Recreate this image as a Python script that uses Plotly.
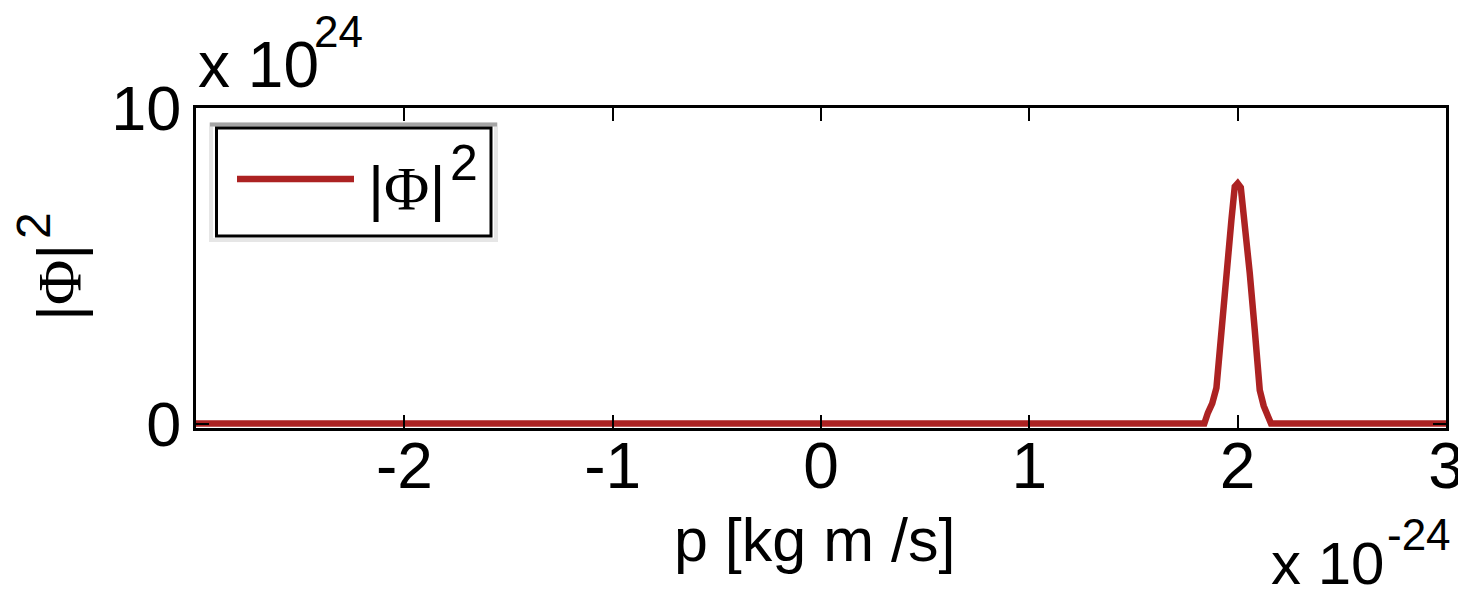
import plotly.graph_objects as go

# momentum p in units of 1e-24 kg m/s
p_vals = [-3.0, 1.84, 1.857, 1.878, 1.898, 1.913, 1.938, 1.953, 1.97, 1.986, 2.0,
          2.015, 2.034, 2.058, 2.082, 2.106, 2.125, 2.144, 2.16, 3.0]
# |Phi|^2 in units of 1e24
phi2_vals = [0.0, 0.0, 0.34, 0.64, 1.13, 2.33, 3.92, 5.61, 6.45, 7.51, 7.61,
             7.48, 6.45, 4.77, 2.97, 1.06, 0.56, 0.21, 0.0, 0.0]

x_ticks = [-2, -1, 0, 1, 2, 3]
y_ticks = [0, 10]

FONT = "Liberation Sans, Arial, sans-serif"
LINE_COLOR = "#ac2222"
PHI = "<span style='font-family:Liberation Serif'>Φ</span>"

# page (px) -> paper helpers; plot area spans x 196..1446, y 108..428 in the page
def px_x(px):
    return (px - 196) / 1250

def px_y(py):
    return (428 - py) / 320

fig = go.Figure()
fig.add_trace(go.Scatter(x=p_vals, y=phi2_vals, mode="lines",
                         line=dict(color=LINE_COLOR, width=6.5),
                         name="|Φ|²", showlegend=False))

fig.update_layout(
    width=1458, height=588,
    margin=dict(l=188, r=20, t=100, b=168, autoexpand=False),
    paper_bgcolor="white", plot_bgcolor="white",
    font=dict(family=FONT, size=62, color="black"),
    showlegend=False,
)
fig.update_xaxes(range=[-3, 3], tickvals=x_ticks, ticktext=[str(t) for t in x_ticks],
                 ticks="inside", ticklen=13, tickwidth=2, tickcolor="black",
                 showline=True, linecolor="black", linewidth=3, mirror="ticks",
                 showgrid=False, zeroline=False, ticklabelstandoff=-20, automargin=False,
                 tickfont=dict(size=64))
fig.update_yaxes(range=[-0.14, 10], tickvals=y_ticks, ticktext=[str(t) for t in y_ticks],
                 ticks="inside", ticklen=13, tickwidth=2, tickcolor="black",
                 showline=True, linecolor="black", linewidth=3, mirror="ticks",
                 showgrid=False, zeroline=False, ticklabelstandoff=-1, automargin=False,
                 tickfont=dict(size=63))

# x-axis title
fig.add_annotation(text="p [kg m /s]", xref="paper", yref="paper", x=px_x(814), y=px_y(575.9),
                   xanchor="center", yanchor="bottom", showarrow=False, font=dict(size=61))

# y-axis title (rotated), main part and exponent
fig.add_annotation(text="|" + PHI + "|", xref="paper", yref="paper", x=px_x(58.1), y=px_y(282),
                   xanchor="center", yanchor="middle", textangle=-90,
                   showarrow=False, font=dict(size=62))
fig.add_annotation(text="2", xref="paper", yref="paper", x=px_x(33.4), y=px_y(225.5),
                   xanchor="center", yanchor="middle", textangle=-90,
                   showarrow=False, font=dict(size=48))

# axis exponent labels
fig.add_annotation(text="x 10", xref="paper", yref="paper", x=0, y=px_y(102.6),
                   xanchor="left", yanchor="bottom", showarrow=False, font=dict(size=64))
fig.add_annotation(text="24", xref="paper", yref="paper", x=px_x(312), y=px_y(58.3),
                   xanchor="left", yanchor="bottom", showarrow=False, font=dict(size=44))
fig.add_annotation(text="x 10", xref="paper", yref="paper", x=px_x(1386.4), y=px_y(599),
                   xanchor="right", yanchor="bottom", showarrow=False, font=dict(size=60))
fig.add_annotation(text="-24", xref="paper", yref="paper", x=px_x(1385.2), y=px_y(561.3),
                   xanchor="left", yanchor="bottom", showarrow=False, font=dict(size=44))

# legend box
fig.add_shape(type="rect", xref="paper", yref="paper",
              x0=px_x(211), x1=px_x(496), y0=px_y(240), y1=px_y(124.5),
              line=dict(color="#e6e6e6", width=4), fillcolor="white", layer="above")
fig.add_shape(type="line", xref="paper", yref="paper",
              x0=px_x(210), x1=px_x(497), y0=px_y(124.5), y1=px_y(124.5),
              line=dict(color="#a4a4a4", width=4), layer="above")
fig.add_shape(type="rect", xref="paper", yref="paper",
              x0=px_x(216.5), x1=px_x(491), y0=px_y(236), y1=px_y(128),
              line=dict(color="black", width=3), fillcolor="white", layer="above")
fig.add_shape(type="line", xref="paper", yref="paper",
              x0=px_x(237), x1=px_x(354), y0=px_y(179), y1=px_y(179),
              line=dict(color=LINE_COLOR, width=6.5), layer="above")
fig.add_annotation(text="|" + PHI + "|", xref="paper", yref="paper",
                   x=px_x(366), y=px_y(224), xanchor="left", yanchor="bottom",
                   showarrow=False, font=dict(size=62))
fig.add_annotation(text="2", xref="paper", yref="paper",
                   x=px_x(448), y=px_y(193), xanchor="left", yanchor="bottom",
                   showarrow=False, font=dict(size=50))

fig.write_html("out.html")
